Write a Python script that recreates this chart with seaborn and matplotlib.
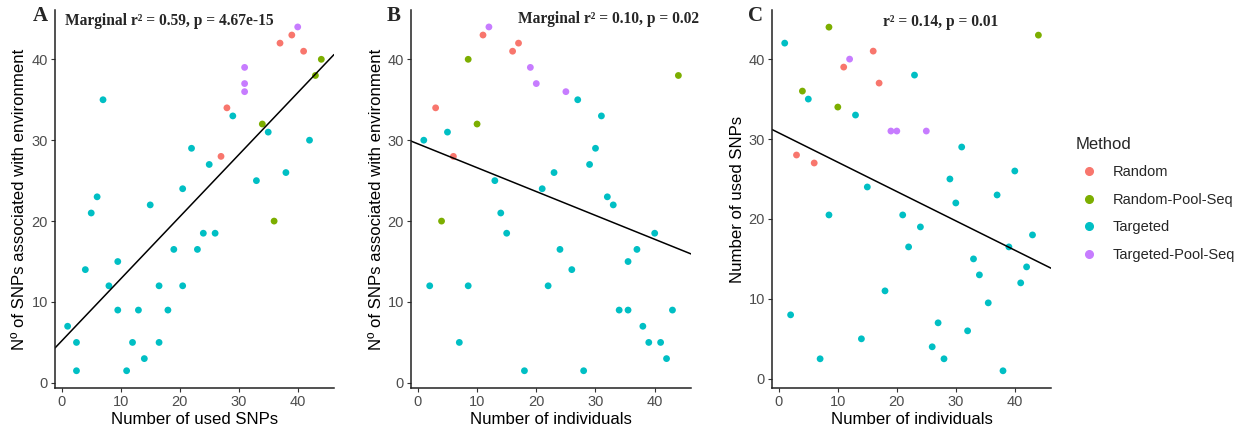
import pandas as pd
import seaborn as sns
import matplotlib.pyplot as plt
from matplotlib.lines import Line2D

sns.set_style('ticks')
plt.rcParams['font.family'] = ['Liberation Sans', 'DejaVu Sans']

methods = ['Random', 'Random-Pool-Seq', 'Targeted', 'Targeted-Pool-Seq']
colors = ['#F8766D', '#7CAE00', '#00BFC4', '#C77CFF']

# panel A: used SNPs vs SNPs associated with environment
a_method = ['Random'] * 5 + ['Random-Pool-Seq'] * 4 + ['Targeted'] * 31 + ['Targeted-Pool-Seq'] * 4
a_used = [27, 28, 37, 39, 41,
          34, 36, 43, 44,
          1, 2.5, 2.5, 4, 5, 6, 7, 8, 9.5, 9.5, 11, 12, 13, 14, 15, 16.5, 16.5, 18, 19,
          20.5, 20.5, 22, 23, 24, 25, 26, 29, 33, 35, 38, 42,
          31, 31, 31, 40]
a_assoc = [28, 34, 42, 43, 41,
           32, 20, 38, 40,
           7, 5, 1.5, 14, 21, 23, 35, 12, 15, 9, 1.5, 5, 9, 3, 22, 12, 5, 9, 16.5,
           24, 12, 29, 16.5, 18.5, 27, 18.5, 33, 25, 31, 26, 30,
           39, 37, 36, 44]

# panel B: individuals vs SNPs associated with environment
b_method = ['Random'] * 5 + ['Random-Pool-Seq'] * 4 + ['Targeted'] * 31 + ['Targeted-Pool-Seq'] * 4
b_indiv = [3, 6, 11, 16, 17,
           4, 8.5, 10, 44,
           1, 2, 5, 7, 8.5, 13, 14, 15, 18, 21, 22, 23, 24, 26, 27, 28, 29, 30, 31, 32,
           33, 34, 35.5, 35.5, 37, 38, 39, 40, 41, 42, 43,
           12, 19, 20, 25]
b_assoc = [34, 28, 43, 41, 42,
           20, 40, 32, 38,
           30, 12, 31, 5, 12, 25, 21, 18.5, 1.5, 24, 12, 26, 16.5, 14, 35, 1.5, 27, 29, 33, 23,
           22, 9, 15, 9, 16.5, 7, 5, 18.5, 5, 3, 9,
           44, 39, 37, 36]

# panel C: individuals vs used SNPs
c_method = ['Random'] * 5 + ['Random-Pool-Seq'] * 4 + ['Targeted'] * 30 + ['Targeted-Pool-Seq'] * 4
c_indiv = [3, 6, 11, 16, 17,
           4, 8.5, 10, 44,
           1, 2, 5, 7, 8.5, 13, 14, 15, 18, 21, 22, 23, 24, 26, 27, 28, 29, 30, 31, 32,
           33, 34, 35.5, 37, 38, 39, 40, 41, 42, 43,
           12, 19, 20, 25]
c_used = [28, 27, 39, 41, 37,
          36, 44, 34, 43,
          42, 8, 35, 2.5, 20.5, 33, 5, 24, 11, 20.5, 16.5, 38, 19, 4, 7, 2.5, 25, 22, 29, 6,
          15, 13, 9.5, 23, 1, 16.5, 26, 12, 14, 18,
          40, 31, 31, 31]

# fitted (marginal) lines: intercept, slope
fit_a = (5.19, 0.767)
fit_b = (29.55, -0.295)
fit_c = (30.77, -0.367)

dfa = pd.DataFrame({'x': a_used, 'y': a_assoc, 'Method': a_method})
dfb = pd.DataFrame({'x': b_indiv, 'y': b_assoc, 'Method': b_method})
dfc = pd.DataFrame({'x': c_indiv, 'y': c_used, 'Method': c_method})

fig = plt.figure(figsize=(12.43, 4.33), dpi=100)
axA = fig.add_axes([0.0442, 0.104, 0.2245, 0.873])
axB = fig.add_axes([0.3307, 0.104, 0.2253, 0.873])
axC = fig.add_axes([0.6211, 0.104, 0.2245, 0.873])

panels = [
    (axA, dfa, fit_a, 'Number of used SNPs', 'Nº of SNPs associated with environment', (-0.63, 46.1)),
    (axB, dfb, fit_b, 'Number of individuals', 'Nº of SNPs associated with environment', (-0.63, 46.1)),
    (axC, dfc, fit_c, 'Number of individuals', 'Number of used SNPs', (-1.15, 46.15)),
]

for ax, df, fit, xl, yl, ylim in panels:
    sns.scatterplot(data=df, x='x', y='y', hue='Method', hue_order=methods,
                    palette=colors, s=24, linewidth=0, legend=False, ax=ax)
    ax.axline((0, fit[0]), slope=fit[1], color='black', linewidth=1.1)
    ax.set_xlim(-1.15, 46.15)
    ax.set_ylim(*ylim)
    ax.set_xticks([0, 10, 20, 30, 40])
    ax.set_yticks([0, 10, 20, 30, 40])
    ax.set_xlabel(xl, fontsize=12.1, color='black', labelpad=2)
    ax.set_ylabel(yl, fontsize=12.1, color='black', labelpad=3)
    ax.tick_params(labelsize=10.5, labelcolor='#4D4D4D', color='#333333',
                   length=3, width=0.8, pad=2)
    for sp in ['top', 'right']:
        ax.spines[sp].set_visible(False)
    for sp in ['left', 'bottom']:
        ax.spines[sp].set_linewidth(1.1)
        ax.spines[sp].set_color('#222222')

serif = ['Liberation Serif', 'DejaVu Serif']
axA.text(0.56, 44.7, 'Marginal r² = 0.59, p = 4.67e-15', family=serif,
         fontweight='bold', fontsize=11.2, ha='left', va='center')
axB.text(47.5, 45.0, 'Marginal r² = 0.10, p = 0.02', family=serif,
         fontweight='bold', fontsize=11.2, ha='right', va='center')
axC.text(27.5, 44.6, 'r² = 0.14, p = 0.01', family=serif,
         fontweight='bold', fontsize=11.2, ha='center', va='center')

for x, lab in [(0.026, 'A'), (0.311, 'B'), (0.602, 'C')]:
    fig.text(x, 0.962, lab, family=serif, fontweight='bold', fontsize=15,
             ha='left', va='center')

handles = [Line2D([], [], marker='o', linestyle='', color=c, markersize=5.5)
           for c in colors]
fig.legend(handles, methods, title='Method', loc='upper left',
           bbox_to_anchor=(0.855, 0.714), frameon=False, fontsize=10.5,
           title_fontsize=12, handlelength=1.8, handletextpad=0.7,
           labelspacing=0.92, alignment='left')

fig.savefig('out.png', dpi=100)
